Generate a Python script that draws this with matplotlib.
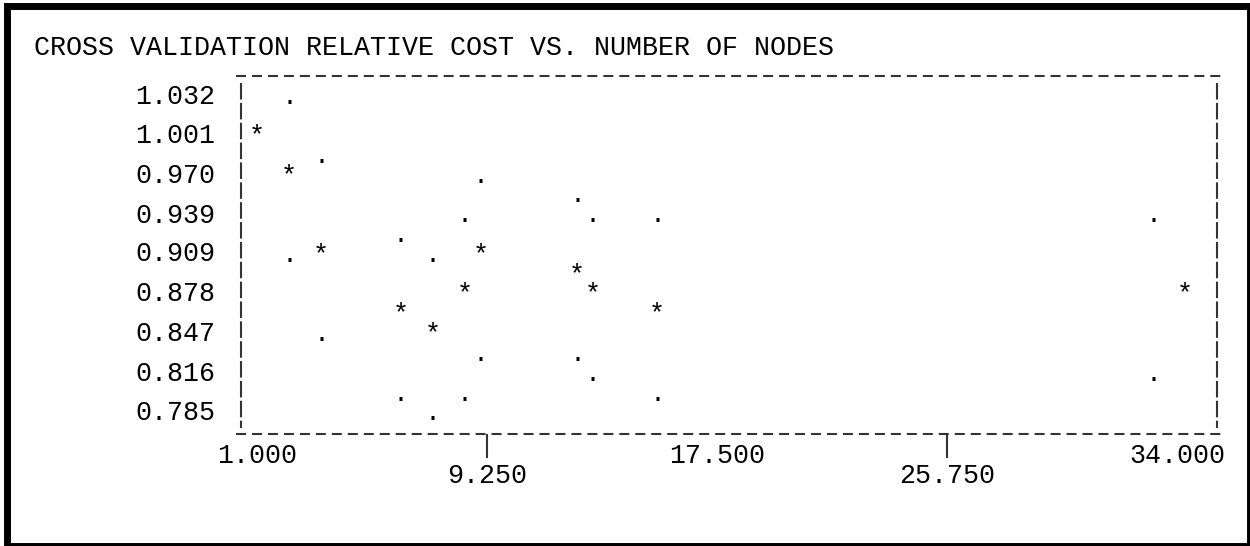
import matplotlib.pyplot as plt
from matplotlib.patches import Rectangle

plt.rcParams['font.family'] = ['Liberation Mono', 'DejaVu Sans Mono']
plt.rcParams['lines.scale_dashes'] = False

title = 'CROSS VALIDATION RELATIVE COST VS. NUMBER OF NODES'

# mean relative cost (printed as '*')
nodes_mean = [1.0, 2.15, 3.3, 6.16, 7.31, 8.46, 9.03, 12.48, 13.05, 15.35, 34.29]
cost_mean = [1.001, 0.970, 0.9085, 0.862, 0.847, 0.878, 0.9085, 0.893, 0.878, 0.862, 0.878]

# upper / lower band (printed as '.')
nodes_band = [2.15, 3.3, 6.16, 7.31, 8.46, 9.03, 12.48, 13.05, 15.35, 33.14]
cost_upper = [1.032, 0.9857, 0.924, 0.9085, 0.9394, 0.970, 0.955, 0.9394, 0.9394, 0.9394]
cost_lower = [0.9085, 0.847, 0.800, 0.785, 0.800, 0.831, 0.831, 0.816, 0.800, 0.816]

yticks = [0.785, 0.816, 0.847, 0.878, 0.909, 0.939, 0.970, 1.001, 1.032]
xticks_major = [1.0, 17.5, 34.0]
xticks_minor = [9.25, 25.75]

FS = 19.2   # 16 px per character at 100 dpi
W, H = 1250, 546

fig = plt.figure(figsize=(W / 100, H / 100), dpi=100)
ax = fig.add_axes([241 / W, (H - 434) / H, 976 / W, (434 - 75.5) / H])
ax.set_xlim(0.4261, 35.4348)
ax.set_ylim(0.77448, 1.05382)
for s in ax.spines.values():
    s.set_visible(False)

# line printer style border
dash_h = (0, (7.2, 4.3))
dash_v = (0, (11.9, 2.4))
lc = '#333333'
ax.plot([-0.0051, 1.0051], [1, 1], transform=ax.transAxes, clip_on=False,
        color=lc, lw=1.5, linestyle=dash_h)
ax.plot([-0.0051, 1.0051], [0, 0], transform=ax.transAxes, clip_on=False,
        color=lc, lw=1.5, linestyle=dash_h)
ax.plot([0, 0], [0.979, 0.018], transform=ax.transAxes, clip_on=False,
        color=lc, lw=1.5, linestyle=dash_v)
ax.plot([1, 1], [0.979, 0.018], transform=ax.transAxes, clip_on=False,
        color=lc, lw=1.5, linestyle=dash_v)

# points as printed characters
for x, y in zip(nodes_mean, cost_mean):
    ax.text(x, y, '*', ha='center', va='baseline', fontsize=FS)
for x, y in zip(nodes_band, cost_upper):
    ax.text(x, y, '.', ha='center', va='baseline', fontsize=FS)
for x, y in zip(nodes_band, cost_lower):
    ax.text(x, y, '.', ha='center', va='baseline', fontsize=FS)

# y axis
ax.set_yticks(yticks, labels=['%.3f' % v for v in yticks])
ax.tick_params(axis='y', length=0, pad=18.7, labelsize=FS)
for lab in ax.get_yticklabels():
    lab.set_va('baseline')

# x axis
ax.set_xticks(xticks_major, labels=['%.3f' % v for v in xticks_major])
ax.set_xticks(xticks_minor, labels=['%.3f' % v for v in xticks_minor], minor=True)
ax.tick_params(axis='x', which='major', length=0, pad=6.5, labelsize=FS)
ax.tick_params(axis='x', which='minor', length=17, width=1.5, color=lc,
               direction='out', pad=4, labelsize=FS)

fig.text(33.5 / W, (H - 55) / H, title, ha='left', va='baseline', fontsize=FS)

fig.add_artist(Rectangle((6.5 / W, 0.5 / H), (1249.5 - 6.5) / W, (540.5 - 0.5) / H,
                         transform=fig.transFigure, fill=False, lw=5, ec='black'))

fig.savefig('out.png', dpi=100)
